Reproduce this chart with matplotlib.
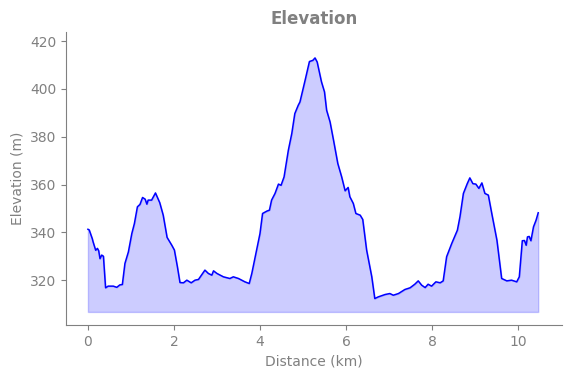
import matplotlib
matplotlib.use("Agg")
import matplotlib.pyplot as plt

# ─── DATA ───────────────────────────────────────────────────────────────────
distance_km = [
    0.00, 0.03, 0.10, 0.12, 0.18, 0.22, 0.25, 0.28, 0.32, 0.36, 0.41, 0.47,
    0.59, 0.67, 0.74, 0.80, 0.86, 0.94, 1.02, 1.08, 1.15, 1.21, 1.27, 1.33,
    1.37, 1.40, 1.48, 1.57, 1.67, 1.75, 1.84, 1.95, 2.01, 2.08, 2.14, 2.22,
    2.30, 2.40, 2.49, 2.57, 2.64, 2.72, 2.80, 2.88, 2.92, 3.00, 3.15, 3.30,
    3.38, 3.50, 3.65, 3.75, 3.81, 3.92, 4.00, 4.06, 4.16, 4.22, 4.27, 4.35,
    4.43, 4.49, 4.56, 4.66, 4.74, 4.81, 4.89, 4.93, 5.05, 5.15, 5.23, 5.28,
    5.33, 5.43, 5.50, 5.55, 5.63, 5.71, 5.81, 5.90, 5.98, 6.05, 6.09, 6.17,
    6.23, 6.33, 6.39, 6.48, 6.60, 6.67, 6.75, 6.91, 7.02, 7.10, 7.22, 7.37,
    7.49, 7.60, 7.68, 7.76, 7.84, 7.91, 7.99, 8.09, 8.19, 8.26, 8.34, 8.46,
    8.59, 8.65, 8.73, 8.82, 8.88, 8.95, 9.02, 9.09, 9.16, 9.23, 9.31, 9.39,
    9.51, 9.62, 9.74, 9.85, 9.97, 10.03, 10.10, 10.15, 10.19, 10.22, 10.26,
    10.30, 10.36, 10.42, 10.47,
]
elevation_m = [
    341.3, 341.0, 337.4, 336.0, 332.5, 333.3, 332.3, 329.0, 330.5, 330.0, 316.8, 317.5,
    317.5, 317.0, 318.0, 318.2, 327.0, 331.8, 339.5, 343.7, 350.7, 351.7, 354.6, 353.9,
    351.8, 353.5, 353.5, 356.5, 352.4, 347.2, 337.9, 334.6, 332.6, 325.6, 319.0, 318.9,
    320.0, 318.9, 320.0, 320.3, 322.1, 324.2, 322.8, 322.1, 323.9, 322.8, 321.4, 320.7,
    321.4, 320.7, 319.3, 318.6, 322.8, 332.6, 339.5, 347.9, 348.9, 349.3, 353.5, 356.3,
    360.2, 359.7, 363.2, 374.4, 381.4, 389.7, 393.2, 394.6, 403.7, 411.5, 412.0, 413.0,
    411.3, 403.0, 398.8, 391.1, 386.2, 378.6, 368.8, 363.2, 357.4, 358.8, 354.9, 352.1,
    347.9, 347.2, 345.4, 332.6, 321.4, 312.3, 313.0, 314.0, 314.4, 313.7, 314.4, 316.1,
    316.8, 318.3, 319.7, 317.9, 316.9, 318.3, 317.5, 319.3, 318.9, 319.7, 329.8, 335.4,
    340.9, 346.5, 356.3, 360.4, 362.8, 360.4, 360.2, 358.4, 360.7, 356.3, 355.6, 347.9,
    336.7, 320.7, 319.7, 320.0, 319.3, 321.4, 336.5, 336.6, 334.6, 338.1, 338.3,
    336.5, 342.3, 345.1, 348.2,
]

# ─── PLOT ───────────────────────────────────────────────────────────────────
GREY = "#808080"
plt.rcParams["font.family"] = "DejaVu Sans"

fig = plt.figure(figsize=(5.71, 3.78), dpi=100)
ax = fig.add_axes([0.1156, 0.140, 0.8684, 0.775])

base = min(elevation_m) - 5.6
ax.fill_between(distance_km, elevation_m, base, color="blue", alpha=0.2)
ax.plot(distance_km, elevation_m, color="blue", linewidth=1.1)

ax.set_xlim(-0.51, 11.02)
ax.set_ylim(301.2, 423.8)
ax.set_xticks([0, 2, 4, 6, 8, 10])
ax.set_yticks([320, 340, 360, 380, 400, 420])

ax.set_title("Elevation", color=GREY, fontsize=12, fontweight="bold")
ax.set_xlabel("Distance (km)", color=GREY, fontsize=10)
ax.set_ylabel("Elevation (m)", color=GREY, fontsize=10)

for side in ("top", "right"):
    ax.spines[side].set_visible(False)
for side in ("left", "bottom"):
    ax.spines[side].set_color(GREY)
ax.tick_params(colors=GREY, labelsize=10)

plt.savefig("out.png", dpi=100)
